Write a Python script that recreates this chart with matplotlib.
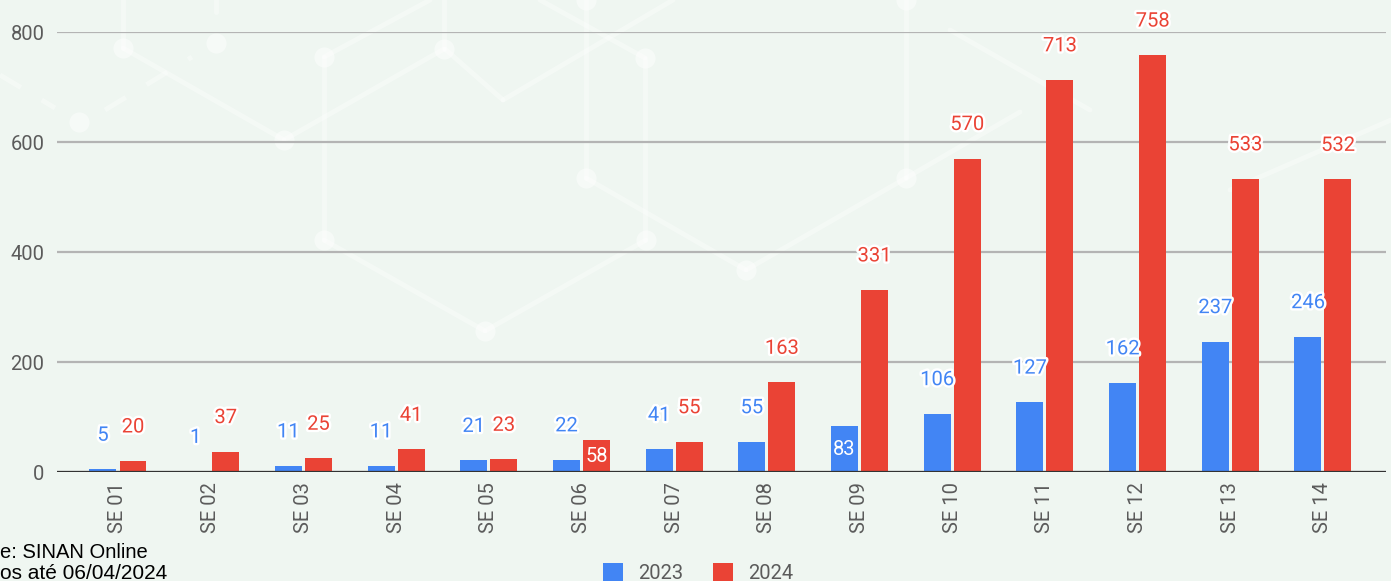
import numpy as np
import matplotlib
matplotlib.use("Agg")
import matplotlib.pyplot as plt
import matplotlib.patheffects as pe
from matplotlib.patches import Patch

#%% data
weeks = ["SE 01", "SE 02", "SE 03", "SE 04", "SE 05", "SE 06", "SE 07",
         "SE 08", "SE 09", "SE 10", "SE 11", "SE 12", "SE 13", "SE 14"]
cases_2023 = [5, 1, 11, 11, 21, 22, 41, 55, 83, 106, 127, 162, 237, 246]
cases_2024 = [20, 37, 25, 41, 23, 58, 55, 163, 331, 570, 713, 758, 533, 532]
series_names = ["2023", "2024"]
y_ticks = [0, 200, 400, 600, 800]
# labels that the original draws inside the bar (series, week index)
inside_labels = [(0, 8), (1, 5)]
# source note, as far as it is visible in the original (cut at the left edge)
source_lines = ["e: SINAN Online", "os até 06/04/2024"]

#%% style
bg = "#eff6f1"
blue = "#4285f4"
red = "#ea4335"
txt_gray = "#5b5b5b"
plt.rcParams["font.family"] = ["Roboto", "DejaVu Sans"]

W, H, DPI = 1391, 581, 100
fig = plt.figure(figsize=(W / DPI, H / DPI), dpi=DPI, facecolor=bg)

#%% faint network decoration in the background (pixel coords)
deco = fig.add_axes([0, 0, 1, 1], zorder=0)
deco.set_xlim(0, W)
deco.set_ylim(H, 0)
deco.axis("off")
segments = [
    ((123, 0), (123, 48)), ((123, 48), (284, 140)), ((284, 140), (444, 49)),
    ((324, 57), (324, 240)), ((324, 57), (430, 0)), ((324, 240), (485, 331)),
    ((444, 49), (444, 0)), ((445, 49), (503, 100)), ((503, 100), (673, 0)),
    ((540, 0), (645, 58)), ((586, 0), (586, 178)), ((645, 58), (645, 240)),
    ((586, 178), (746, 270)), ((646, 240), (485, 331)), ((746, 270), (906, 178)),
    ((906, 0), (906, 178)), ((906, 178), (1020, 112)), ((950, 30), (1090, 110)),
    ((1230, 190), (1391, 120)), ((216, 0), (216, 12)),
]
for (x0, y0), (x1, y1) in segments:
    deco.plot([x0, x1], [y0, y1], color="white", lw=3.5, alpha=0.35,
              solid_capstyle="round")
dashed = [((0, 75), (55, 108)), ((105, 110), (192, 57))]
for (x0, y0), (x1, y1) in dashed:
    deco.plot([x0, x1], [y0, y1], color="white", lw=3.5, alpha=0.35,
              ls=(0, (5, 5)))
dots = [(123, 48), (216, 43), (79, 122), (284, 140), (324, 57), (444, 49),
        (324, 240), (586, 178), (645, 58), (646, 240), (746, 270), (485, 331),
        (906, 178), (586, 0), (906, 0)]
deco.scatter([d[0] for d in dots], [d[1] for d in dots], s=210, color="white",
             alpha=0.45, lw=0)

#%% main chart
ax = fig.add_axes([57 / W, 109 / H, (1386 - 57) / W, 440 / H], zorder=1)
ax.set_facecolor("none")

x = np.arange(len(weeks))
bw = 0.291
off = 0.162
ax.bar(x - off, cases_2023, width=bw, color=blue, zorder=3, label=series_names[0])
ax.bar(x + off, cases_2024, width=bw, color=red, zorder=3, label=series_names[1])

ax.set_xlim(-0.658, 13.68)
ax.set_ylim(0, 800)
ax.set_yticks(y_ticks)
ax.grid(axis="y", color="#b4b4b4", lw=1.6, zorder=1)
ax.axhline(0, color="#333333", lw=1.6, zorder=4)
for s in ax.spines.values():
    s.set_visible(False)
ax.set_xticks(x)
ax.set_xticklabels(weeks, rotation=90, fontsize=14.5, color=txt_gray)
ax.tick_params(axis="x", length=0, pad=7)
ax.tick_params(axis="y", length=0, pad=9, labelsize=14.5, labelcolor=txt_gray)

halo = [pe.withStroke(linewidth=3.5, foreground="white")]
for si, (vals, col, dx) in enumerate([(cases_2023, blue, -off), (cases_2024, red, off)]):
    for i, v in enumerate(vals):
        if (si, i) in inside_labels:
            ax.text(i + dx, v / 2, str(v), ha="center", va="center",
                    fontsize=14.5, color="white", zorder=5)
        else:
            ax.annotate(str(v), (i + dx, v), xytext=(0, 24.5),
                        textcoords="offset points", ha="center", va="center",
                        fontsize=14.5, color=col, path_effects=halo,
                        annotation_clip=False, zorder=5)

#%% legend and source note
handles = [Patch(facecolor=blue, label=series_names[0]),
           Patch(facecolor=red, label=series_names[1])]
fig.legend(handles=handles, loc="center", bbox_to_anchor=(698 / W, 8 / H),
           ncol=2, frameon=False, fontsize=14.5, labelcolor=txt_gray,
           handlelength=1.0, handleheight=1.0, handletextpad=0.75,
           columnspacing=1.45)

fig.text(0, 1 - 558 / H, source_lines[0], ha="left", va="baseline",
         fontsize=14.5, family=["Liberation Sans"], color="black")
fig.text(0, 1 - 579 / H, source_lines[1], ha="left", va="baseline",
         fontsize=15, family=["Liberation Sans"], color="black")

fig.savefig("out.png", dpi=DPI, facecolor=bg)
